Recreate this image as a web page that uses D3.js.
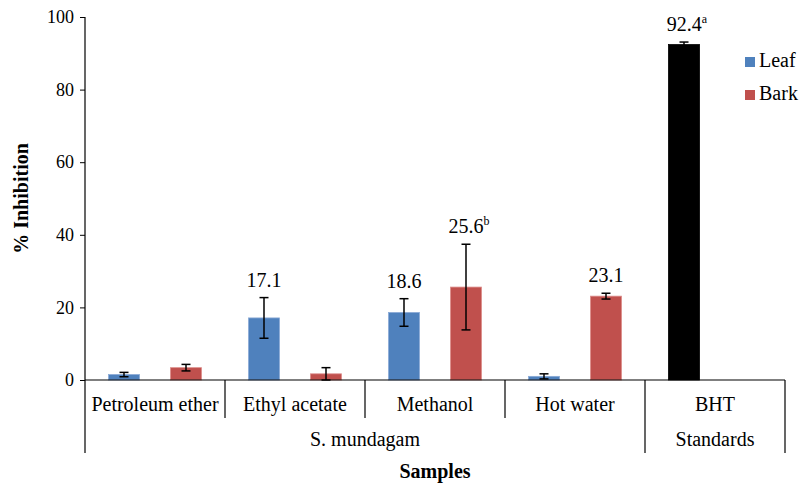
<!DOCTYPE html>
<html>
<head>
<meta charset="utf-8">
<script src="https://cdn.jsdelivr.net/npm/d3@7"></script>
<style>
  html, body { margin: 0; padding: 0; background: #fff; }
  svg text { font-family: "Liberation Serif", "Times New Roman", serif; fill: #000; }
</style>
</head>
<body>
<svg id="chart" width="801" height="485"></svg>
<script>
// ---- data ----
const categories = ["Petroleum ether", "Ethyl acetate", "Methanol", "Hot water", "BHT"];
const groupNames = ["S. mundagam", "Standards"];
const groupSpans = [4, 1];
const seriesNames = ["Leaf", "Bark"];
const leafValues = [1.5, 17.1, 18.6, 1.0, 92.4];
const leafErrors = [0.6, 5.6, 3.8, 0.7, 0.7];
const barkValues = [3.4, 1.7, 25.6, 23.1, null];
const barkErrors = [0.9, 1.7, 11.8, 0.8, null];
const leafLabels = ["", "17.1", "18.6", "", "92.4"];
const leafSup = ["", "", "", "", "a"];
const barkLabels = ["", "", "25.6", "23.1", ""];
const barkSup = ["", "", "b", "", ""];
const yTicks = [0, 20, 40, 60, 80, 100];
const yTitle = "% Inhibition";
const xTitle = "Samples";

(function () {
// ---- layout ----
const svg = d3.select("#chart");
const pLeft = 85, pRight = 785, pTop = 17, pBottom = 380;
const catBottom = 418, groupBottom = 453;
const FS = 20;

const x = d3.scaleBand().domain(categories).range([pLeft, pRight]).paddingInner(0).paddingOuter(0);
const xs = d3.scaleBand().domain(seriesNames).range([0, x.bandwidth()]).paddingInner(0.5).paddingOuter(0.379);
const y = d3.scaleLinear().domain([0, 100]).range([pBottom, pTop]);

const colors = { Leaf: "#4F81BD", Bark: "#C0504D", BHT: "#000000" };
const strokes = { Leaf: "#8AAAD6", Bark: "#DC8D8B", BHT: "#000000" };

const rows = [];
categories.forEach((c, i) => {
  if (leafValues[i] != null) rows.push({ cat: c, s: "Leaf", v: leafValues[i], e: leafErrors[i], lab: leafLabels[i], sup: leafSup[i], col: c === "BHT" ? "BHT" : "Leaf" });
  if (barkValues[i] != null) rows.push({ cat: c, s: "Bark", v: barkValues[i], e: barkErrors[i], lab: barkLabels[i], sup: barkSup[i], col: "Bark" });
});

// bars
svg.append("g").selectAll("rect").data(rows).join("rect")
  .attr("x", d => x(d.cat) + xs(d.s))
  .attr("y", d => y(d.v))
  .attr("width", xs.bandwidth())
  .attr("height", d => y(0) - y(d.v))
  .attr("fill", d => colors[d.col])
  .attr("stroke", d => strokes[d.col])
  .attr("stroke-width", 0.8);

// error bars
const eg = svg.append("g").attr("stroke", "#000").attr("stroke-width", 1.5);
rows.forEach(d => {
  const cx = x(d.cat) + xs(d.s) + xs.bandwidth() / 2;
  const y1 = y(d.v + d.e), y2 = y(Math.max(0, d.v - d.e));
  eg.append("line").attr("x1", cx).attr("x2", cx).attr("y1", y1).attr("y2", y2);
  eg.append("line").attr("x1", cx - 4.5).attr("x2", cx + 4.5).attr("y1", y1).attr("y2", y1);
  eg.append("line").attr("x1", cx - 4.5).attr("x2", cx + 4.5).attr("y1", y2).attr("y2", y2);
});

// value labels
rows.filter(d => d.lab).forEach(d => {
  const cx = x(d.cat) + xs(d.s) + xs.bandwidth() / 2;
  const t = svg.append("text")
    .attr("x", cx + (d.sup ? 3 : 0))
    .attr("y", y(d.v + d.e) - 11)
    .attr("text-anchor", "middle")
    .attr("font-size", FS);
  t.append("tspan").text(d.lab);
  if (d.sup) t.append("tspan").attr("font-size", 12).attr("dy", -8).text(d.sup);
});

// y axis
const yAxis = d3.axisLeft(y).tickValues(yTicks).tickSize(5).tickPadding(6).tickFormat(d3.format("d"));
const ya = svg.append("g").attr("transform", `translate(${pLeft},0)`).call(yAxis);
ya.select(".domain").remove();
ya.selectAll(".tick line").attr("stroke", "#000").attr("stroke-width", 1);
ya.selectAll(".tick text").attr("font-size", 18).attr("font-family", "Liberation Serif, serif").attr("fill", "#000");

const axisG = svg.append("g").attr("stroke", "#000").attr("stroke-width", 1.2);
axisG.append("line").attr("x1", pLeft).attr("x2", pLeft).attr("y1", pTop).attr("y2", groupBottom);
axisG.append("line").attr("x1", pLeft).attr("x2", pRight).attr("y1", pBottom).attr("y2", pBottom);

// category dividers
categories.forEach((c, i) => {
  if (i === 0) return;
  let cum = 0, isGroupEdge = false;
  groupSpans.forEach(s => { cum += s; if (cum === i) isGroupEdge = true; });
  axisG.append("line").attr("x1", x(c)).attr("x2", x(c)).attr("y1", pBottom).attr("y2", isGroupEdge ? groupBottom : catBottom);
});
axisG.append("line").attr("x1", pRight).attr("x2", pRight).attr("y1", pBottom).attr("y2", groupBottom);

// category labels
svg.append("g").selectAll("text").data(categories).join("text")
  .attr("x", d => x(d) + x.bandwidth() / 2)
  .attr("y", 411)
  .attr("text-anchor", "middle")
  .attr("font-size", FS)
  .text(d => d);

// group labels
let start = 0;
groupNames.forEach((g, i) => {
  const x0 = x(categories[start]);
  const x1 = x(categories[start + groupSpans[i] - 1]) + x.bandwidth();
  svg.append("text").attr("x", (x0 + x1) / 2).attr("y", 446)
    .attr("text-anchor", "middle").attr("font-size", FS).text(g);
  start += groupSpans[i];
});

// axis titles
svg.append("text").attr("x", (pLeft + pRight) / 2).attr("y", 478)
  .attr("text-anchor", "middle").attr("font-size", FS).attr("font-weight", "bold").text(xTitle);
svg.append("text").attr("transform", `translate(28,${(pTop + pBottom) / 2}) rotate(-90)`)
  .attr("text-anchor", "middle").attr("font-size", FS).attr("font-weight", "bold").text(yTitle);

// legend
const legend = svg.append("g").attr("transform", "translate(745,57)");
seriesNames.forEach((s, i) => {
  const g = legend.append("g").attr("transform", `translate(0,${i * 33})`);
  g.append("rect").attr("width", 10).attr("height", 10).attr("fill", colors[s]);
  g.append("text").attr("x", 14).attr("y", 10).attr("font-size", FS).text(s);
});
})();
</script>
</body>
</html>
